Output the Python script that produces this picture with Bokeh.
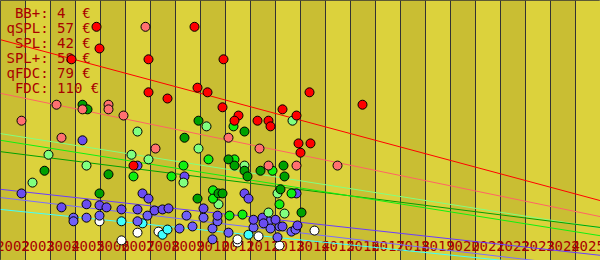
from bokeh.plotting import figure
from bokeh.models import Range1d
from bokeh.core.properties import value
from bokeh.embed import file_html
from bokeh.resources import INLINE

# ---------------- data ----------------
years = list(range(2002, 2026))
legend_names = ["BB+", "qSPL", "SPL", "SPL+", "qFDC", "FDC"]
legend_prices = [4, 57, 42, 58, 79, 110]

fdc_year = [2005.34, 2005.46, 2004.34, 2007.42, 2009.26, 2010.42, 2007.42, 2008.18, 2006.82, 2009.78,
            2009.38, 2010.38, 2011.02, 2010.86, 2011.78, 2012.22, 2012.30, 2012.78, 2013.34, 2013.86,
            2015.98, 2013.42, 2013.90, 2013.50]
fdc_price = [447, 405, 384, 384, 447, 384, 320, 308, 178, 320,
             329, 291, 275, 265, 265, 265, 254, 287, 275, 320,
             296, 221, 221, 203]

qfdc_year = [2007.30, 2003.74, 2004.78, 2005.82, 2005.82, 2006.42, 2002.34, 2003.94, 2007.70, 2010.62,
             2011.86, 2012.22, 2013.34, 2014.98]
qfdc_price = [447, 296, 287, 296, 287, 275, 265, 232, 211, 232,
              211, 178, 178, 178]

splp_year = [2004.78, 2004.98, 2009.42, 2008.86, 2003.26, 2005.82, 2005.46, 2009.38, 2011.26, 2010.62,
             2010.86, 2011.26, 2011.38, 2011.90, 2012.82, 2012.86, 2010.22, 2010.38, 2012.70, 2013.54]
splp_price = [296, 287, 265, 232, 168, 161, 124, 114, 244, 190,
              178, 168, 157, 168, 178, 157, 124, 124, 132, 87]

spl_year = [2008.82, 2009.82, 2010.86, 2010.00, 2010.00, 2012.38, 2012.66, 2013.14, 2010.82, 2006.82,
            2008.34, 2010.66, 2011.18]
spl_price = [178, 190, 190, 130, 114, 168, 103, 124, 254, 157,
             157, 81, 83]

qspl_year = [2006.98, 2003.42, 2006.74, 2007.42, 2004.94, 2002.78, 2008.82, 2009.42, 2009.74, 2013.18,
             2010.22, 2012.58, 2012.22, 2012.86, 2011.26]
qspl_price = [244, 199, 199, 190, 178, 145, 145, 211, 254, 265,
              103, 124, 87, 85, 178]

bbp_year = [2003.94, 2004.94, 2005.46, 2005.74, 2006.34, 2006.98, 2007.66, 2007.98, 2008.22, 2002.34,
            2004.78, 2006.98, 2007.18, 2007.42, 2008.86, 2011.26, 2011.42, 2013.34, 2009.62, 2010.18,
            2011.62, 2011.98, 2012.02, 2012.50, 2012.78, 2013.38]
bbp_price = [97, 103, 101, 97, 93, 93, 91, 93, 95, 124,
             227, 178, 124, 114, 157, 124, 114, 124, 95, 81,
             73, 77, 66, 73, 60, 62]

bb_year = [2004.42, 2004.42, 2004.94, 2005.46, 2006.98, 2007.38, 2008.94, 2008.66, 2009.18, 2009.62,
           2009.98, 2010.18, 2010.62, 2011.62, 2012.22, 2012.30, 2012.66, 2012.58, 2013.14, 2013.30,
           2009.98]
bb_price = [77, 70, 77, 81, 70, 81, 81, 56, 60, 77,
            56, 70, 48, 58, 70, 56, 60, 39, 50, 54,
            35]

qbb_year = [2006.34, 2007.18, 2007.98, 2008.18, 2011.42]
qbb_price = [70, 66, 44, 54, 44]

mb_year = [2005.46, 2006.98, 2007.82, 2006.34, 2010.98, 2010.98, 2011.82, 2012.66, 2014.06]
mb_price = [70, 48, 50, 33, 29, 35, 41, 23, 52]

# trend values at the left and right edge of the period
trend_names = ["FDC", "qFDC", "qSPL", "SPL+", "SPL", "BB+", "BB", "qBB"]
trend_start = [422, 318, 240, 205, 227, 132, 116, 93]
trend_end = [110, 79, 57, 58, 42, 4, -21, -25]

# ---------------- styling ----------------
W, H = 600, 260
Y0, Y1 = -6, 498
X0, X1 = years[0] - 0.5, years[-1] + 0.5
LIGHT, DARK = "#dcd23c", "#c9be33"
TXT = "#a80000"
FONT = value("DejaVu Sans Mono")
NB = "\u00a0"

def ypix(py):
    return Y1 - py * (Y1 - Y0) / H

def xpix(px):
    return X0 + px * (X1 - X0) / W

p = figure(width=W, height=H, x_range=Range1d(X0, X1), y_range=Range1d(Y0, Y1),
           output_backend="svg", toolbar_location=None, min_border=0)
p.axis.visible = False
p.grid.visible = False
p.outline_line_color = "#333333"
p.background_fill_color = LIGHT
p.border_fill_color = LIGHT

# stripes
p.quad(left=[y - 0.5 for y in years], right=[y + 0.5 for y in years],
       bottom=Y0, top=Y1,
       fill_color=[DARK if y % 2 == 0 else LIGHT for y in years], line_color=None)
# grid lines on year boundaries
edges = [y - 0.5 for y in years] + [years[-1] + 0.5]
p.segment(x0=edges, x1=edges, y0=Y0, y1=Y1, line_color="#333333", line_width=1)

# year labels
p.text(x=years, y=[ypix(245)] * len(years), text=[str(y) for y in years],
       text_font=FONT, text_font_size="14px", text_color=TXT,
       text_align="center", text_baseline="middle")

# legend texts (non-breaking spaces keep the monospace alignment in SVG)
leg_text = [f"{n:>4}: {v:<2} €".replace(" ", NB) for n, v in zip(legend_names, legend_prices)]
p.text(x=[xpix(6)] * len(leg_text), y=[ypix(12 + 15 * i) for i in range(len(leg_text))],
       text=leg_text, text_font=FONT, text_font_size="14px", text_color=TXT,
       text_align="left", text_baseline="middle")

line_colors = {"FDC": "#ff0000", "qFDC": "#ff6464", "qSPL": "#80ff80", "SPL+": "#00a000",
               "SPL": "#10f010", "BB+": "#6a3cff", "BB": "#7a6cff", "qBB": "#40ffff"}
for name, s, e in zip(trend_names, trend_start, trend_end):
    p.line(x=[X0, X1], y=[s, e], line_color=line_colors[name], line_width=1)

groups = [
    (mb_year, mb_price, "#ffffff"),
    (qbb_year, qbb_price, "#40ffff"),
    (bb_year, bb_price, "#7060f8"),
    (bbp_year, bbp_price, "#6a4cf0"),
    (qspl_year, qspl_price, "#80ff80"),
    (spl_year, spl_price, "#10f010"),
    (splp_year, splp_price, "#00a000"),
    (qfdc_year, qfdc_price, "#ff7070"),
    (fdc_year, fdc_price, "#ff0000"),
]
for xs, ys, c in groups:
    p.scatter(x=xs, y=ys, size=9, fill_color=c, line_color="#000000", line_width=1)

open("out.html", "w").write(file_html(p, INLINE))
